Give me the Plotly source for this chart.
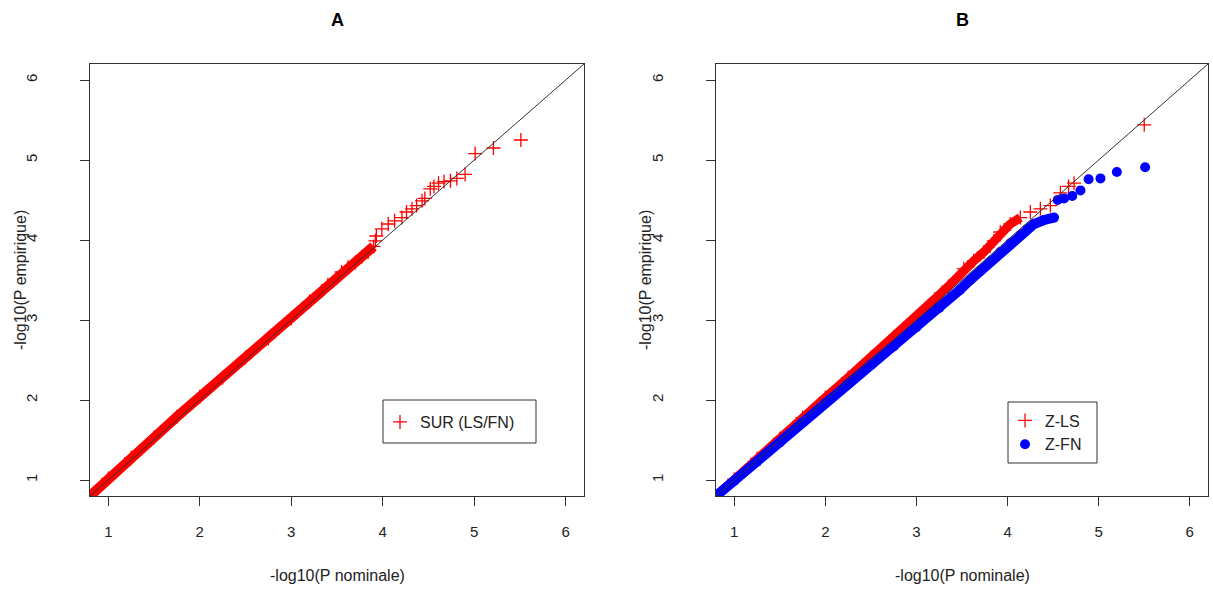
import plotly.graph_objects as go

# ---------------- data ----------------
TICKS = [1, 2, 3, 4, 5, 6]
TICK_LABELS = ["1", "2", "3", "4", "5", "6"]
AXIS_RANGE = [0.8, 6.2]

# Panel A : SUR (LS/FN)
A_SUR_X = [0.80, 1.00, 1.25, 1.50, 1.75, 2.00, 2.25, 2.50, 2.75, 3.00, 3.20, 3.40, 3.55,
           3.62, 3.70, 3.77, 3.84, 3.90, 3.92, 3.93, 3.99, 4.06, 4.13, 4.21, 4.26, 4.32,
           4.37, 4.43, 4.46, 4.52, 4.56, 4.61, 4.67, 4.74, 4.81, 4.90, 5.01, 5.21, 5.51]
A_SUR_Y = [0.80, 1.02, 1.28, 1.53, 1.79, 2.04, 2.28, 2.53, 2.77, 3.02, 3.23, 3.44, 3.60,
           3.66, 3.72, 3.79, 3.85, 3.92, 3.99, 4.05, 4.14, 4.20, 4.24, 4.28, 4.35, 4.39,
           4.43, 4.49, 4.52, 4.64, 4.67, 4.71, 4.73, 4.74, 4.77, 4.82, 5.08, 5.15, 5.25]

# Panel B : Z-LS
B_ZLS_X = [0.80, 1.00, 1.25, 1.50, 1.75, 2.00, 2.25, 2.50, 2.75, 3.00, 3.20, 3.35, 3.52,
           3.63, 3.74, 3.85, 3.92, 4.03, 4.14, 4.25, 4.36, 4.47, 4.58, 4.67, 4.73, 5.50]
B_ZLS_Y = [0.80, 1.01, 1.27, 1.52, 1.78, 2.03, 2.28, 2.53, 2.78, 3.03, 3.26, 3.42, 3.64,
           3.74, 3.85, 3.99, 4.10, 4.20, 4.28, 4.35, 4.39, 4.43, 4.59, 4.67, 4.71, 5.44]

# Panel B : Z-FN
B_ZFN_X = [0.80, 1.00, 1.25, 1.50, 1.75, 2.00, 2.25, 2.50, 2.75, 3.00, 3.25, 3.48, 3.59,
           3.70, 3.81, 3.92, 4.03, 4.14, 4.22, 4.29, 4.40, 4.51, 4.55, 4.62, 4.71, 4.80,
           4.89, 5.02, 5.20, 5.51]
B_ZFN_Y = [0.80, 0.99, 1.23, 1.47, 1.72, 1.96, 2.20, 2.44, 2.67, 2.91, 3.15, 3.38, 3.50,
           3.61, 3.73, 3.85, 3.96, 4.06, 4.14, 4.20, 4.25, 4.28, 4.50, 4.52, 4.55, 4.62,
           4.76, 4.77, 4.85, 4.91]

# where the points are so dense that they merge into a continuous band
BAND_END_A = 3.90
BAND_END_ZLS = 4.20
BAND_END_ZFN = 4.51

RED = "#FF0000"
BLUE = "#0000FF"
INK = "#222222"
FONT = "Liberation Sans, Arial, sans-serif"

W, H = 1213, 590

fig = go.Figure()


def add_series(xs, ys, band_end, name, color, symbol, xaxis, yaxis, legend, band_w):
    bx = [x for x in xs if x <= band_end]
    by = [y for x, y in zip(xs, ys) if x <= band_end]
    fig.add_trace(go.Scatter(
        x=bx, y=by, mode="lines", line=dict(color=color, width=band_w),
        xaxis=xaxis, yaxis=yaxis, showlegend=False, hoverinfo="skip"))
    if symbol == "cross-thin":
        marker = dict(symbol="cross-thin", size=10, color=color,
                      line=dict(color=color, width=1.3))
    else:
        marker = dict(symbol="circle", size=10, color=color, line=dict(width=0))
    fig.add_trace(go.Scatter(
        x=xs, y=ys, mode="markers", marker=marker, name=name,
        xaxis=xaxis, yaxis=yaxis, legend=legend))


add_series(A_SUR_X, A_SUR_Y, BAND_END_A, "SUR (LS/FN)", RED, "cross-thin", "x", "y", "legend", 10)
add_series(B_ZLS_X, B_ZLS_Y, BAND_END_ZLS, "Z-LS", RED, "cross-thin", "x2", "y2", "legend2", 9)
add_series(B_ZFN_X, B_ZFN_Y, BAND_END_ZFN, "Z-FN", BLUE, "circle", "x2", "y2", "legend2", 10)

axis_common = dict(
    range=AXIS_RANGE, tickvals=TICKS, ticktext=TICK_LABELS,
    showline=True, mirror=True, linecolor="#333333", linewidth=1,
    ticks="outside", ticklen=9, tickcolor="#333333", tickwidth=1,
    showgrid=False, zeroline=False, fixedrange=True,
    tickfont=dict(family=FONT, size=15, color=INK),
)

y_dom = [1 - 496 / H, 1 - 64 / H]
xa_dom = [90 / W, 584 / W]
xb_dom = [716 / W, 1208 / W]

fig.update_layout(
    width=W, height=H, autosize=False,
    margin=dict(l=0, r=0, t=0, b=0),
    paper_bgcolor="white", plot_bgcolor="white",
    font=dict(family=FONT, size=15, color=INK),
    xaxis=dict(domain=xa_dom, anchor="y", ticklabelstandoff=13, **axis_common),
    yaxis=dict(domain=y_dom, anchor="x", tickangle=-90, ticklabelstandoff=37, **axis_common),
    xaxis2=dict(domain=xb_dom, anchor="y2", ticklabelstandoff=13, **axis_common),
    yaxis2=dict(domain=y_dom, anchor="x2", tickangle=-90, ticklabelstandoff=37, **axis_common),
    legend=dict(x=380 / W, xanchor="left", y=1 - 422 / H, yanchor="middle",
                bgcolor="rgba(0,0,0,0)", borderwidth=0,
                font=dict(family=FONT, size=16, color=INK)),
    legend2=dict(x=1005 / W, xanchor="left", y=1 - 432.5 / H, yanchor="middle",
                 bgcolor="rgba(0,0,0,0)", borderwidth=0,
                 font=dict(family=FONT, size=16, color=INK)),
)

# y = x reference lines across the full axis range
for xr, yr in (("x", "y"), ("x2", "y2")):
    fig.add_shape(type="line", xref=xr, yref=yr,
                  x0=AXIS_RANGE[0], y0=AXIS_RANGE[0], x1=AXIS_RANGE[1], y1=AXIS_RANGE[1],
                  line=dict(color="#333333", width=1), layer="above")

# legend frames
fig.add_shape(type="rect", xref="paper", yref="paper",
              x0=383 / W, x1=536 / W, y0=1 - 443 / H, y1=1 - 400 / H,
              line=dict(color="#333333", width=1), fillcolor="rgba(0,0,0,0)", layer="above")
fig.add_shape(type="rect", xref="paper", yref="paper",
              x0=1008 / W, x1=1097 / W, y0=1 - 463 / H, y1=1 - 402 / H,
              line=dict(color="#333333", width=1), fillcolor="rgba(0,0,0,0)", layer="above")

ann = []
for cx, label in ((337, "A"), (962, "B")):
    ann.append(dict(text="<b>%s</b>" % label, x=cx / W, y=1 - 20 / H, xref="paper", yref="paper",
                    showarrow=False, xanchor="center", yanchor="middle",
                    font=dict(family=FONT, size=18, color="#000000")))
for cx in (337, 962):
    ann.append(dict(text="-log10(P nominale)", x=cx / W, y=1 - 575 / H, xref="paper", yref="paper",
                    showarrow=False, xanchor="center", yanchor="middle",
                    font=dict(family=FONT, size=16, color=INK)))
for cx in (20, 645):
    ann.append(dict(text="-log10(P empirique)", x=cx / W, y=1 - 280 / H, xref="paper", yref="paper",
                    showarrow=False, xanchor="center", yanchor="middle", textangle=-90,
                    font=dict(family=FONT, size=16, color=INK)))
fig.update_layout(annotations=ann)

fig.write_html("out.html", config={"displayModeBar": False},
               post_script="document.body.style.margin='0';")
